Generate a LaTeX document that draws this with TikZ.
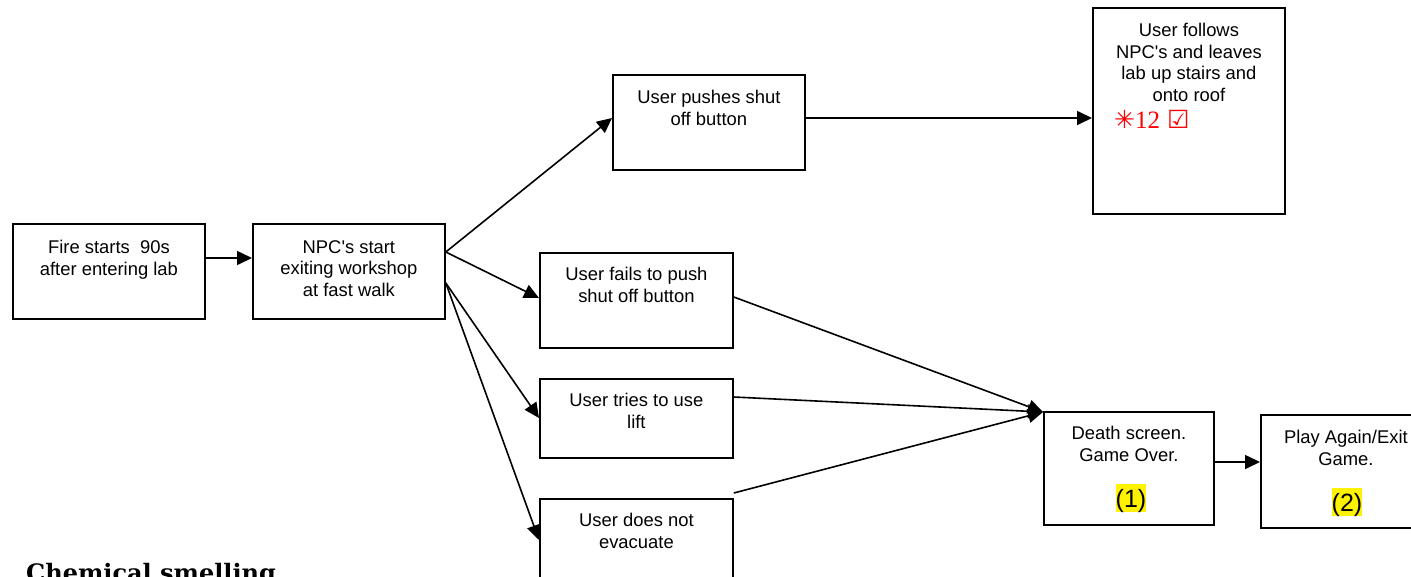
\documentclass[tikz,border=0pt]{standalone}
\usepackage{fontspec}
\setmainfont{Liberation Sans}
\newfontfamily\symfont{DejaVu Sans}
\newfontfamily\numfont{Liberation Serif}
\newfontfamily\headfont{DejaVu Serif}
\usetikzlibrary{arrows.meta}
\tikzset{
  box/.style={draw=black, line width=1.8pt, anchor=north west, inner sep=0pt},
  boxtext/.style={anchor=north, inner sep=0pt, align=center,
    font=\fontsize{18.4}{21.5}\selectfont},
  flow/.style={line width=1.6pt, -{Triangle[length=15pt,width=14pt]}},
  hl/.style={fill=yellow, inner sep=0pt, text height=22.6pt, text depth=5.3pt,
    anchor=base, font=\fontsize{25}{30}\selectfont},
}
\begin{document}
\begin{tikzpicture}[x=1pt, y=-1pt]
\useasboundingbox (0,0) rectangle (1411,576);
\clip (0,0) rectangle (1411,576);

% boxes
\node[box, minimum width=192pt, minimum height=95pt]  (a) at (12,223) {};
\node[box, minimum width=192pt, minimum height=95pt]  (b) at (252,223) {};
\node[box, minimum width=192pt, minimum height=95pt]  (c) at (612,74) {};
\node[box, minimum width=192pt, minimum height=206pt] (d) at (1092,7) {};
\node[box, minimum width=193pt, minimum height=95pt]  (e) at (539,252) {};
\node[box, minimum width=193pt, minimum height=79pt]  (f) at (539,378) {};
\node[box, minimum width=193pt, minimum height=110pt] (g) at (539,498) {};
\node[box, minimum width=170pt, minimum height=113pt] (h) at (1043,411) {};
\node[box, minimum width=170pt, minimum height=113pt] (i) at (1260,414) {};

% box texts
\node[boxtext] (a-t) at ([yshift=-17pt]a.north) {Fire starts\ \ 90s\\after entering lab};
\node[boxtext] (b-t) at ([yshift=-17pt]b.north) {NPC\textquotesingle s start\\exiting workshop\\at fast walk};
\node[boxtext] (c-t) at ([yshift=-16pt]c.north) {User pushes shut\\off button};
\node[boxtext] (d-t) at ([yshift=-16pt]d.north) {User follows\\NPC\textquotesingle s and leaves\\lab up stairs and\\onto roof};
\node[anchor=base west, inner sep=0pt, text=red, font=\fontsize{25}{30}\selectfont]
  (d-r) at (1114,128) {{\symfont\bfseries ✳}{\numfont 12}\ {\symfont ☑}};
\node[boxtext] (e-t) at ([yshift=-15pt]e.north) {User fails to push\\shut off button};
\node[boxtext] (f-t) at ([yshift=-15pt]f.north) {User tries to use\\lift};
\node[boxtext] (g-t) at ([yshift=-15pt]g.north) {User does not\\evacuate};
\node[boxtext] (h-t) at ([yshift=-15pt]h.north) {Death screen.\\Game Over.};
\node[hl] (h-n) at (1131,507) {(1)};
\node[boxtext] (i-t) at ([yshift=-16pt]i.north) {Play Again/Exit\\Game.};
\node[hl] (i-n) at (1347,511) {(2)};

% heading below the chart, running off the lower edge
\node[anchor=base west, inner sep=0pt, font=\headfont\bfseries\fontsize{24}{28}\selectfont]
  (chem) at (26,581) {Chemical smelling};

% connectors
\draw[flow] ([yshift=-35pt]a.north east) -- ([yshift=-35pt]b.north west);
\draw[flow] ([yshift=-29pt]b.north east) -- ([yshift=-44pt]c.north west);
\draw[flow] ([yshift=-29pt]b.north east) -- ([yshift=-46pt]e.north west);
\draw[flow] ([yshift=-60pt]b.north east) -- ([yshift=-40pt]f.north west);
\draw[flow] ([yshift=-60pt]b.north east) -- ([yshift=-42pt]g.north west);
\draw[flow] ([yshift=-44pt]c.north east) -- ([yshift=-111pt]d.north west);
\draw[flow] ([yshift=-45pt]e.north east) -- ([yshift=-1pt]h.north west);
\draw[flow] ([yshift=-19pt]f.north east) -- ([yshift=-1pt]h.north west);
\draw[flow] ([yshift=5pt]g.north east) -- ([yshift=-1pt]h.north west);
\draw[flow] ([yshift=-51pt]h.north east) -- ([yshift=-48pt]i.north west);
\end{tikzpicture}
\end{document}
